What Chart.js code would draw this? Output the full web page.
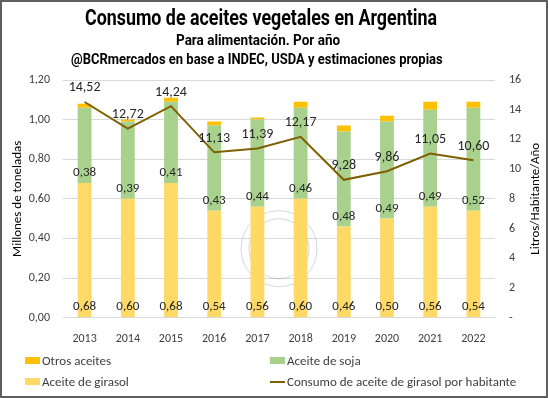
<!DOCTYPE html>
<html>
<head>
<meta charset="utf-8">
<script src="https://cdn.jsdelivr.net/npm/chart.js@4.4.1/dist/chart.umd.min.js"></script>
<style>
body { margin: 0; background: #fff; }
#wrap { position: relative; width: 548px; height: 398px; overflow: hidden; }
#chart { position: absolute; left: 0; top: 0; }
#frame { position: absolute; left: 0; top: 0; width: 548px; height: 398px; box-sizing: border-box; border: 2px solid #5f5f5f; pointer-events: none; }
.ttl { position: absolute; left: 0; top: 0; color: #000; font-weight: bold; transform-origin: 0 0;
       font-family: Roboto, "DejaVu Sans Condensed", sans-serif; white-space: nowrap; }
.leg { position: absolute; font: 13px Carlito, Lato, sans-serif; color: #404040; white-space: nowrap; line-height: 16px; }
.sw { display: inline-block; width: 15px; height: 7px; vertical-align: middle; margin-right: 2px; margin-top: -2px; }
.ln { display: inline-block; width: 15px; height: 2px; vertical-align: middle; margin-right: 2px; margin-top: -2px; }
</style>
</head>
<body>
<div id="wrap">
  <canvas id="chart" width="548" height="398"></canvas>
  <div class="ttl" id="t1" style="font-size:22px">Consumo de aceites vegetales en Argentina</div>
  <div class="ttl" id="t2" style="font-size:15px">Para alimentación. Por año</div>
  <div class="ttl" id="t3" style="font-size:15px">@BCRmercados en base a INDEC, USDA y estimaciones propias</div>
  <div class="leg" style="left:25px; top:353px;"><span class="sw" style="background:#FFC000"></span>Otros aceites</div>
  <div class="leg" style="left:270px; top:353px;"><span class="sw" style="background:#A9D18E"></span>Aceite de soja</div>
  <div class="leg" style="left:25px; top:374px;"><span class="sw" style="background:#FFD966"></span>Aceite de girasol</div>
  <div class="leg" style="left:270px; top:374px;"><span class="ln" style="background:#7F6000"></span>Consumo de aceite de girasol por habitante</div>
  <div id="frame"></div>
</div>
<script>
// Data
const years = ['2013', '2014', '2015', '2016', '2017', '2018', '2019', '2020', '2021', '2022'];
const girasol = [0.68, 0.60, 0.68, 0.54, 0.56, 0.60, 0.46, 0.50, 0.56, 0.54];
const soja = [0.38, 0.39, 0.41, 0.43, 0.44, 0.46, 0.48, 0.49, 0.49, 0.52];
const otros = [0.02, 0.01, 0.02, 0.02, 0.01, 0.03, 0.03, 0.03, 0.04, 0.03];
const litrosPorHabitante = [14.52, 12.72, 14.24, 11.13, 11.39, 12.17, 9.28, 9.86, 11.05, 10.60];

const FONT = 'Carlito, Lato, sans-serif';
const fmt = v => v.toFixed(2).replace('.', ',');

// Squeeze the title lines into a condensed look: [id, left, top, width]
[['t1', 85, 5, 352], ['t2', 176, 31, 164], ['t3', 71, 50, 372]].forEach(([id, x, y, w]) => {
    const el = document.getElementById(id);
    const sx = w / el.offsetWidth;
    el.style.transform = `translate(${x}px, ${y}px) scaleX(${sx})`;
});

// Draws the value labels (bars: near the base of each segment, line: above the point)
const valueLabels = {
    id: 'valueLabels',
    afterDatasetsDraw(chart) {
        const ctx = chart.ctx;
        ctx.save();
        ctx.textAlign = 'center';
        ctx.textBaseline = 'middle';
        ctx.fillStyle = '#262626';
        chart.data.datasets.forEach((ds, i) => {
            if (!ds.showValues) return;
            const meta = chart.getDatasetMeta(i);
            meta.data.forEach((el, j) => {
                const txt = fmt(ds.data[j]);
                if (ds.type === 'line') {
                    ctx.font = '14px ' + FONT;
                    ctx.fillText(txt, el.x, el.y - 14);
                } else {
                    ctx.font = '13px ' + FONT;
                    ctx.fillText(txt, el.x, el.base - 10);
                }
            });
        });
        ctx.restore();
    }
};

// Right axis title reads bottom to top, like the left one
const rightTitle = {
    id: 'rightTitle',
    afterDraw(chart) {
        const ctx = chart.ctx;
        const area = chart.chartArea;
        ctx.save();
        ctx.translate(536, (area.top + area.bottom) / 2);
        ctx.rotate(-Math.PI / 2);
        ctx.textAlign = 'center';
        ctx.textBaseline = 'middle';
        ctx.font = '13px ' + FONT;
        ctx.fillStyle = '#000';
        ctx.fillText('Litros/Habitante/Año', 0, 0);
        ctx.restore();
    }
};

// Faint watermark rings behind the bars
const watermark = {
    id: 'watermark',
    beforeDatasetsDraw(chart) {
        const ctx = chart.ctx;
        const area = chart.chartArea;
        const cx = area.left + area.width * 0.50;
        const cy = area.top + area.height * 0.71;
        ctx.save();
        ctx.strokeStyle = 'rgba(90,100,130,0.25)';
        ctx.lineWidth = 1;
        ctx.beginPath(); ctx.arc(cx, cy, 38, 0, Math.PI * 2); ctx.stroke();
        ctx.beginPath(); ctx.arc(cx, cy, 30, 0, Math.PI * 2); ctx.stroke();
        ctx.restore();
    }
};

const ctx = document.getElementById('chart').getContext('2d');
new Chart(ctx, {
    data: {
        labels: years,
        datasets: [
            {
                type: 'line',
                label: 'Consumo de aceite de girasol por habitante',
                data: litrosPorHabitante,
                yAxisID: 'y1',
                borderColor: '#7F6000',
                borderWidth: 2,
                pointRadius: 0,
                tension: 0,
                order: 0,
                showValues: true
            },
            {
                type: 'bar',
                label: 'Aceite de girasol',
                data: girasol,
                backgroundColor: '#FFD966',
                yAxisID: 'y',
                order: 1,
                showValues: true
            },
            {
                type: 'bar',
                label: 'Aceite de soja',
                data: soja,
                backgroundColor: '#A9D18E',
                yAxisID: 'y',
                order: 1,
                showValues: true
            },
            {
                type: 'bar',
                label: 'Otros aceites',
                data: otros,
                backgroundColor: '#FFC000',
                yAxisID: 'y',
                order: 1
            }
        ]
    },
    options: {
        responsive: false,
        animation: false,
        layout: { padding: { top: 80, bottom: 46, left: 0, right: 0 } },
        datasets: { bar: { barPercentage: 0.32, categoryPercentage: 1 } },
        plugins: { legend: { display: false }, tooltip: { enabled: false } },
        scales: {
            x: {
                stacked: true,
                grid: { display: false },
                border: { display: false },
                ticks: { color: '#404040', font: { family: FONT, size: 12 }, padding: 6, maxRotation: 0 }
            },
            y: {
                stacked: true,
                position: 'left',
                min: 0,
                max: 1.2,
                grid: { color: '#D9D9D9', drawTicks: false },
                border: { display: false },
                ticks: { stepSize: 0.2, color: '#404040', font: { family: FONT, size: 12 }, padding: 13, callback: v => fmt(v) },
                title: { display: true, text: 'Millones de toneladas', color: '#000', font: { family: FONT, size: 13 }, padding: { top: 10, bottom: 4 } },
                afterFit: s => { s.width = 63; }
            },
            y1: {
                position: 'right',
                min: 0,
                max: 16,
                grid: { drawOnChartArea: false, drawTicks: false },
                border: { display: false },
                ticks: { stepSize: 2, color: '#404040', font: { family: FONT, size: 12 }, padding: 14, callback: v => v === 0 ? '-' : v },
                afterFit: s => { s.width = 53; }
            }
        }
    },
    plugins: [valueLabels, rightTitle, watermark]
});
</script>
</body>
</html>
